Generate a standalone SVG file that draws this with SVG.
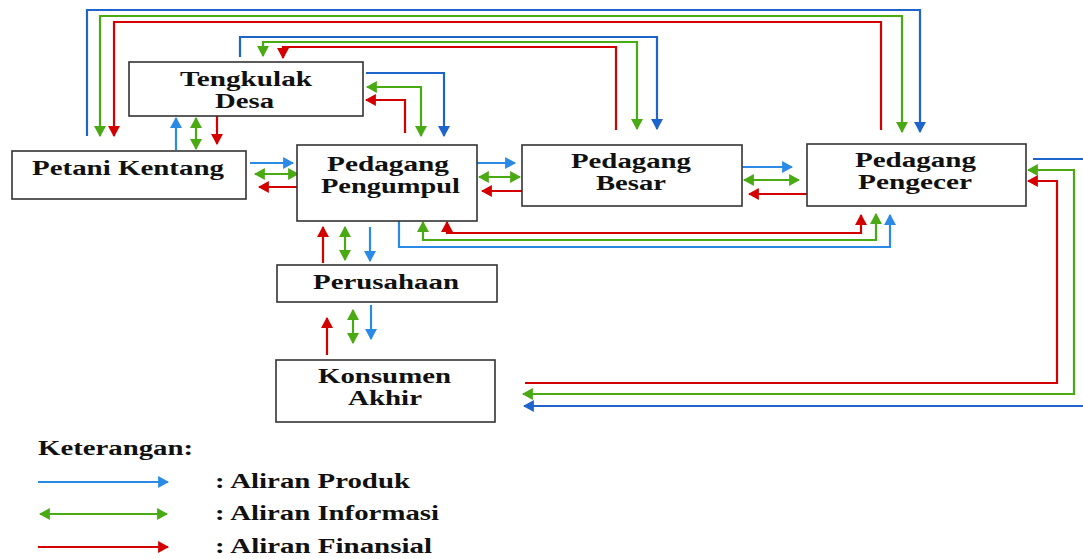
<svg xmlns="http://www.w3.org/2000/svg" width="1083" height="559" viewBox="0 0 1083 559">
<style>
.box{fill:#fff;stroke:#333;stroke-width:1.6}
.t{font-family:"Liberation Serif","Times New Roman",serif;font-weight:bold;font-size:20px;fill:#111}
.c{fill:none;stroke-width:2.2;stroke-linejoin:miter}
.b{stroke:#2a8ae6}
.bd{stroke:#1f63cc}
.g{stroke:#4aaa14}
.r{stroke:#d40000}
</style>
<defs>
<marker id="mb" viewBox="0 0 10 10" refX="9" refY="5" markerWidth="11" markerHeight="12" markerUnits="userSpaceOnUse" orient="auto-start-reverse" preserveAspectRatio="none"><path d="M0,0 L10,5 L0,10 z" fill="#2a8ae6"/></marker>
<marker id="mbd" viewBox="0 0 10 10" refX="9" refY="5" markerWidth="11" markerHeight="12" markerUnits="userSpaceOnUse" orient="auto-start-reverse" preserveAspectRatio="none"><path d="M0,0 L10,5 L0,10 z" fill="#1f63cc"/></marker>
<marker id="mg" viewBox="0 0 10 10" refX="9" refY="5" markerWidth="11" markerHeight="12" markerUnits="userSpaceOnUse" orient="auto-start-reverse" preserveAspectRatio="none"><path d="M0,0 L10,5 L0,10 z" fill="#4aaa14"/></marker>
<marker id="mr" viewBox="0 0 10 10" refX="9" refY="5" markerWidth="11" markerHeight="12" markerUnits="userSpaceOnUse" orient="auto-start-reverse" preserveAspectRatio="none"><path d="M0,0 L10,5 L0,10 z" fill="#d40000"/></marker>
</defs>
<rect width="1083" height="559" fill="#fff"/>

<g id="connectors">
<path class="c bd" d="M87,136 V10 H920 V132" marker-end="url(#mbd)"/>
<path class="c g" d="M100,136 V16 H902 V132" marker-start="url(#mg)" marker-end="url(#mg)"/>
<path class="c r" d="M881,130 V22 H114 V136" marker-end="url(#mr)"/>
<path class="c bd" d="M240,57 V37 H657 V129" marker-end="url(#mbd)"/>
<path class="c g" d="M263,56 V42 H637 V129" marker-start="url(#mg)" marker-end="url(#mg)"/>
<path class="c r" d="M616,130 V47 H283 V58" marker-end="url(#mr)"/>
<path class="c bd" d="M366,73 H444 V136" marker-end="url(#mbd)"/>
<path class="c g" d="M367,87 H421 V136" marker-start="url(#mg)" marker-end="url(#mg)"/>
<path class="c r" d="M405,133 V100 H366" marker-end="url(#mr)"/>
<path class="c b" d="M176,150 V118" marker-end="url(#mb)"/>
<path class="c g" d="M196,118 V149" marker-start="url(#mg)" marker-end="url(#mg)"/>
<path class="c r" d="M217,116 V144" marker-end="url(#mr)"/>
<path class="c b" d="M250,163 H293" marker-end="url(#mb)"/>
<path class="c g" d="M255,174 H298" marker-start="url(#mg)" marker-end="url(#mg)"/>
<path class="c r" d="M297,187 H259" marker-end="url(#mr)"/>
<path class="c b" d="M477,163 H515" marker-end="url(#mb)"/>
<path class="c g" d="M479,177 H520" marker-start="url(#mg)" marker-end="url(#mg)"/>
<path class="c r" d="M522,191 H482" marker-end="url(#mr)"/>
<path class="c b" d="M742,167 H792" marker-end="url(#mb)"/>
<path class="c g" d="M744,180 H799" marker-start="url(#mg)" marker-end="url(#mg)"/>
<path class="c r" d="M810,194 H749" marker-end="url(#mr)"/>
<path class="c b" d="M399,221 V247 H890 V215" marker-end="url(#mb)"/>
<path class="c g" d="M423,222 V240 H876 V214" marker-start="url(#mg)" marker-end="url(#mg)"/>
<path class="c r" d="M447,222 V233 H861 V215" marker-start="url(#mr)" marker-end="url(#mr)"/>
<path class="c r" d="M323,263 V227" marker-end="url(#mr)"/>
<path class="c g" d="M345,227 V260" marker-start="url(#mg)" marker-end="url(#mg)"/>
<path class="c b" d="M370,227 V261" marker-end="url(#mb)"/>
<path class="c r" d="M327,355 V318" marker-end="url(#mr)"/>
<path class="c g" d="M353,310 V343" marker-start="url(#mg)" marker-end="url(#mg)"/>
<path class="c b" d="M371,305 V339" marker-end="url(#mb)"/>
<path class="c bd" d="M1033,159 H1090 V406 H524" marker-end="url(#mbd)"/>
<path class="c g" d="M1028,170 H1074 V394 H523" marker-start="url(#mg)" marker-end="url(#mg)"/>
<path class="c r" d="M525,383 H1057 V181 H1028" marker-end="url(#mr)"/>
</g>

<g id="tengkulak">
<rect class="box" x="129" y="62" width="234" height="54"/>
<text class="t" x="180" y="86" textLength="132" lengthAdjust="spacingAndGlyphs">Tengkulak</text>
<text class="t" x="215" y="108" textLength="59" lengthAdjust="spacingAndGlyphs">Desa</text>
</g>
<g id="petani">
<rect class="box" x="12" y="151" width="234" height="48"/>
<text class="t" x="32" y="175" textLength="192" lengthAdjust="spacingAndGlyphs">Petani Kentang</text>
</g>
<g id="pengumpul">
<rect class="box" x="297" y="145" width="180" height="76"/>
<text class="t" x="327" y="171" textLength="122" lengthAdjust="spacingAndGlyphs">Pedagang</text>
<text class="t" x="321" y="193" textLength="139" lengthAdjust="spacingAndGlyphs">Pengumpul</text>
</g>
<g id="besar">
<rect class="box" x="522" y="145" width="220" height="61"/>
<text class="t" x="571" y="168" textLength="120" lengthAdjust="spacingAndGlyphs">Pedagang</text>
<text class="t" x="596" y="190" textLength="70" lengthAdjust="spacingAndGlyphs">Besar</text>
</g>
<g id="pengecer">
<rect class="box" x="807" y="144" width="219" height="62"/>
<text class="t" x="855" y="167" textLength="121" lengthAdjust="spacingAndGlyphs">Pedagang</text>
<text class="t" x="858" y="189" textLength="114" lengthAdjust="spacingAndGlyphs">Pengecer</text>
</g>
<g id="perusahaan">
<rect class="box" x="277" y="265" width="220" height="37"/>
<text class="t" x="313" y="289" textLength="146" lengthAdjust="spacingAndGlyphs">Perusahaan</text>
</g>
<g id="konsumen">
<rect class="box" x="276" y="360" width="219" height="62"/>
<text class="t" x="318" y="383" textLength="133" lengthAdjust="spacingAndGlyphs">Konsumen</text>
<text class="t" x="348" y="405" textLength="74" lengthAdjust="spacingAndGlyphs">Akhir</text>
</g>

<g id="legend">
<text class="t" x="38" y="455" textLength="155" lengthAdjust="spacingAndGlyphs">Keterangan:</text>
<path class="c b" d="M38,482 H168" marker-end="url(#mb)"/>
<path class="c g" d="M40,514 H167" marker-start="url(#mg)" marker-end="url(#mg)"/>
<path class="c r" d="M38,547 H168" marker-end="url(#mr)"/>
<text class="t" x="215" y="488" textLength="195" lengthAdjust="spacingAndGlyphs">: Aliran Produk</text>
<text class="t" x="215" y="520" textLength="224" lengthAdjust="spacingAndGlyphs">: Aliran Informasi</text>
<text class="t" x="215" y="553" textLength="217" lengthAdjust="spacingAndGlyphs">: Aliran Finansial</text>
</g>
</svg>
